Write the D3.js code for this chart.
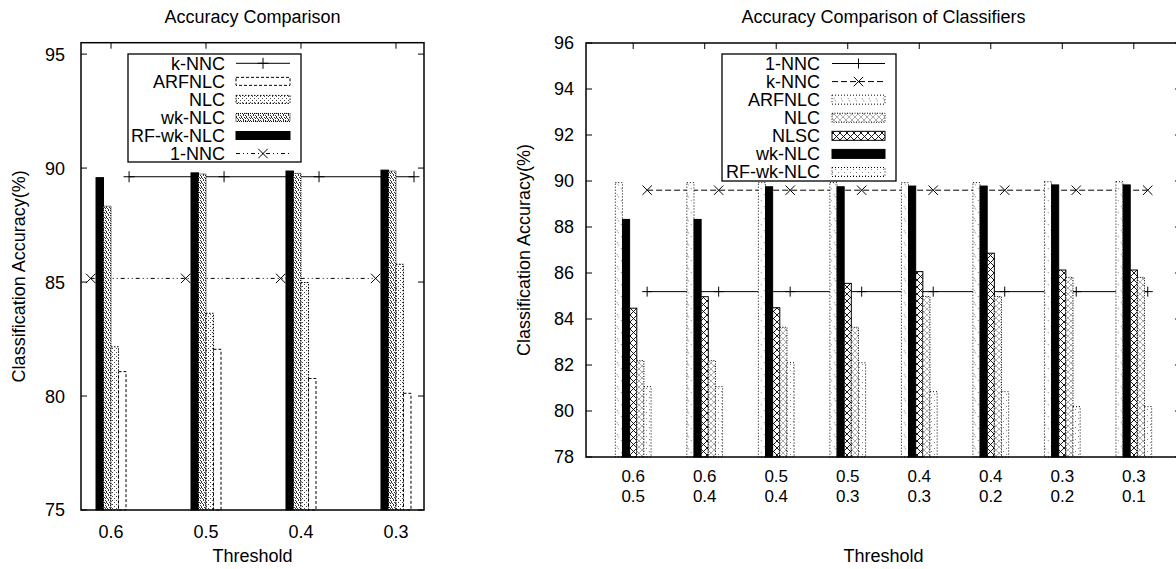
<!DOCTYPE html>
<html>
<head>
<meta charset="utf-8">
<script src="https://cdn.jsdelivr.net/npm/d3@7"></script>
<style>
  html, body { margin: 0; padding: 0; background: #fff; }
  svg { display: block; font-family: "Liberation Sans", Arial, Helvetica, sans-serif; }
</style>
</head>
<body>
<svg id="fig" width="1176" height="569"></svg>
<script>
// ---------- Left panel: single threshold ----------
const thresholdsSingle = ["0.6", "0.5", "0.4", "0.3"];
const singleRFwkNLC = [89.58, 89.79, 89.87, 89.91];
const singleWkNLC   = [88.33, 89.74, 89.77, 89.87];
const singleNLC     = [82.16, 83.63, 84.98, 85.78];
const singleARFNLC  = [81.07, 82.05, 80.77, 80.12];
const singleKNNC    = [89.62, 89.62, 89.62, 89.62];
const single1NNC    = [85.16, 85.16, 85.16, 85.16];
const yTicksSingle  = [75, 80, 85, 90, 95];

// ---------- Right panel: threshold pairs ----------
const thresholdPairs = [["0.6", "0.5"], ["0.6", "0.4"], ["0.5", "0.4"], ["0.5", "0.3"],
                        ["0.4", "0.3"], ["0.4", "0.2"], ["0.3", "0.2"], ["0.3", "0.1"]];
const pairARFNLC  = [89.93, 89.93, 89.93, 89.93, 89.93, 89.93, 89.97, 89.97];
const pairWkNLC   = [88.33, 88.33, 89.75, 89.75, 89.78, 89.78, 89.83, 89.83];
const pairNLSC    = [84.47, 84.97, 84.49, 85.55, 86.06, 86.86, 86.13, 86.13];
const pairNLC     = [82.19, 82.19, 83.64, 83.64, 84.98, 84.98, 85.81, 85.81];
const pairRFwkNLC = [81.06, 81.06, 82.10, 82.10, 80.84, 80.84, 80.19, 80.19];
const pair1NNC    = [85.19, 85.19, 85.19, 85.19, 85.19, 85.19, 85.19, 85.19];
const pairKNNC    = [89.60, 89.60, 89.60, 89.60, 89.60, 89.60, 89.60, 89.60];
const yTicksPair  = [78, 80, 82, 84, 86, 88, 90, 92, 94, 96];

const svg = d3.select("#fig");
const FS = 18;

// ---------- fill patterns ----------
const defs = svg.append("defs");
function pattern(id, w, h, draw) {
  const p = defs.append("pattern").attr("id", id)
    .attr("patternUnits", "userSpaceOnUse").attr("width", w).attr("height", h);
  p.append("rect").attr("width", w).attr("height", h).attr("fill", "#fff");
  draw(p);
}
function dots(p, pts, color) {
  pts.forEach(([a, b]) => p.append("rect").attr("x", a).attr("y", b)
    .attr("width", 1).attr("height", 1).attr("fill", color));
}
// dense irregular stipple
pattern("pStipple", 5, 5, p => dots(p,
  [[0, 0], [3, 0], [1, 1], [4, 2], [2, 3], [0, 3], [3, 4], [1, 2]], "#333"));
// sparse dots
pattern("pSparse", 4, 4, p => dots(p, [[0, 0], [2, 2]], "#444"));
// diamond cross-hatch
pattern("pHatch", 7, 7, p => p.append("path")
  .attr("d", "M0,0L7,7M7,0L0,7M-1,6L1,8M6,-1L8,1")
  .attr("stroke", "#000").attr("stroke-width", 0.9).attr("fill", "none"));
// light cross-hatch
pattern("pLightHatch", 6, 6, p => p.append("path")
  .attr("d", "M0,0L6,6M6,0L0,6")
  .attr("stroke", "#9a9a9a").attr("stroke-width", 0.8).attr("fill", "none"));
// scattered dashes
pattern("pScatter", 7, 12, p => p.append("path")
  .attr("d", "M1,2L3,6M5,8L6,10")
  .attr("stroke", "#666").attr("stroke-width", 0.8).attr("stroke-dasharray", "1,1").attr("fill", "none"));
// sparse grey specks
pattern("pSpecks", 6, 6, p => dots(p, [[1, 1], [4, 4]], "#888"));

const marker = {
  plus: s => `M${-s},0H${s}M0,${-s}V${s}`,
  cross: s => `M${-s},${-s}L${s},${s}M${-s},${s}L${s},${-s}`
};

function panel(o) {
  const g = svg.append("g");
  const x = d3.scaleLinear().domain(o.xDomain).range([o.left, o.right]);
  const y = d3.scaleLinear().domain(o.yDomain).range([o.bottom, o.top]);
  const n = o.categories.length;
  const idx = d3.range(n);
  const tl = 6;

  // tick marks on all four sides
  const ticks = g.append("g").attr("stroke", "#000").attr("stroke-width", 1);
  o.yTicks.forEach(v => {
    ticks.append("line").attr("x1", o.left).attr("x2", o.left + tl).attr("y1", y(v)).attr("y2", y(v));
    ticks.append("line").attr("x1", o.right).attr("x2", o.right - tl).attr("y1", y(v)).attr("y2", y(v));
  });
  idx.forEach(i => {
    ticks.append("line").attr("x1", x(i)).attr("x2", x(i)).attr("y1", o.top).attr("y2", o.top + tl);
    ticks.append("line").attr("x1", x(i)).attr("x2", x(i)).attr("y1", o.bottom).attr("y2", o.bottom - tl);
  });

  // reference lines (drawn under the bars)
  o.lines.forEach(s => {
    const lg = g.append("g");
    lg.append("path")
      .attr("d", d3.line().x((d, i) => x(i + s.offset)).y(d => y(d))(s.values))
      .attr("fill", "none").attr("stroke", "#000").attr("stroke-width", 1)
      .attr("stroke-dasharray", s.dash || null);
    lg.selectAll("path.m").data(s.values).join("path").attr("class", "m")
      .attr("transform", (d, i) => `translate(${x(i + s.offset)},${y(d)})`)
      .attr("d", marker[s.marker](s.msize))
      .attr("fill", "none").attr("stroke", "#000").attr("stroke-width", 1);
  });

  // clustered bars
  const nb = o.bars.length;
  o.bars.forEach((s, j) => {
    g.append("g").selectAll("rect").data(s.values).join("rect")
      .attr("x", (d, i) => x(i + (j - nb / 2) * o.barW))
      .attr("width", (d, i) => x(i + (j + 1 - nb / 2) * o.barW) - x(i + (j - nb / 2) * o.barW))
      .attr("y", d => y(d))
      .attr("height", d => y(o.yDomain[0]) - y(d))
      .attr("fill", s.fill).attr("stroke", s.stroke).attr("stroke-width", 1)
      .attr("stroke-dasharray", s.dash || null);
  });

  // plot frame
  g.append("rect").attr("x", o.left).attr("y", o.top)
    .attr("width", o.right - o.left).attr("height", o.bottom - o.top)
    .attr("fill", "none").attr("stroke", "#000").attr("stroke-width", 1.5);

  // tick labels
  const txt = g.append("g").attr("font-size", FS).attr("fill", "#000");
  o.yTicks.forEach(v => txt.append("text").attr("x", o.yLabelX).attr("y", y(v))
    .attr("dy", "0.36em").attr("text-anchor", "end").text(v));
  o.categories.forEach((c, i) => {
    const lines = Array.isArray(c) ? c : [c];
    lines.forEach((s, k) => txt.append("text")
      .attr("x", x(i)).attr("y", o.xLabelY + k * o.xLineGap)
      .attr("font-size", o.xLabelFS).attr("text-anchor", "middle").text(s));
  });

  // titles
  const cx = (o.left + o.right) / 2;
  txt.append("text").attr("x", cx).attr("y", 23).attr("text-anchor", "middle").text(o.title);
  txt.append("text").attr("x", cx).attr("y", 562).attr("text-anchor", "middle").text("Threshold");
  txt.append("text").attr("transform", `translate(${o.yTitleX},${(o.top + o.bottom) / 2}) rotate(-90)`)
    .attr("text-anchor", "middle").text("Classification Accuracy(%)");

  // key
  const k = o.key;
  const kg = g.append("g");
  kg.append("rect").attr("x", k.x0).attr("y", k.y0).attr("width", k.x1 - k.x0).attr("height", k.y1 - k.y0)
    .attr("fill", "#fff").attr("stroke", "#000").attr("stroke-width", 1.3);
  k.items.forEach((it, r) => {
    const ry = k.rowY + r * k.rowH;
    kg.append("text").attr("x", k.textX).attr("y", ry).attr("dy", "0.36em")
      .attr("text-anchor", "end").attr("font-size", FS).text(it.name);
    if (it.kind === "line") {
      kg.append("line").attr("x1", k.s0).attr("x2", k.s1).attr("y1", ry).attr("y2", ry)
        .attr("stroke", "#000").attr("stroke-width", 1).attr("stroke-dasharray", it.dash || null);
      kg.append("path").attr("transform", `translate(${(k.s0 + k.s1) / 2},${ry})`)
        .attr("d", marker[it.marker](it.msize)).attr("fill", "none").attr("stroke", "#000");
    } else {
      kg.append("rect").attr("x", k.s0).attr("y", ry - k.boxH / 2).attr("width", k.s1 - k.s0).attr("height", k.boxH)
        .attr("fill", it.fill).attr("stroke", it.stroke).attr("stroke-width", 1)
        .attr("stroke-dasharray", it.dash || null);
    }
  });
}

// ---------- left panel ----------
const lBars = [
  { name: "RF-wk-NLC", values: singleRFwkNLC, fill: "#000", stroke: "#000" },
  { name: "wk-NLC", values: singleWkNLC, fill: "url(#pStipple)", stroke: "#000", dash: "1,1" },
  { name: "NLC", values: singleNLC, fill: "url(#pSparse)", stroke: "#000", dash: "1.5,1.5" },
  { name: "ARFNLC", values: singleARFNLC, fill: "#fff", stroke: "#000", dash: "3,2" }
];
const lLines = [
  { name: "k-NNC", values: singleKNNC, marker: "plus", msize: 5.5, offset: 0.19 },
  { name: "1-NNC", values: single1NNC, marker: "cross", msize: 4.7, offset: -0.214, dash: "4,3,1,3,1,3" }
];
panel({
  left: 81, right: 424, top: 42.7, bottom: 510,
  xDomain: [-0.316, 3.295], yDomain: [75, 95.5], yTicks: yTicksSingle,
  categories: thresholdsSingle, barW: 0.079,
  bars: lBars, lines: lLines,
  yLabelX: 65, xLabelY: 538, xLineGap: 0, xLabelFS: FS, yTitleX: 25,
  title: "Accuracy Comparison",
  key: {
    x0: 128, y0: 54, x1: 301, y1: 162, textX: 225, s0: 236, s1: 290, rowY: 63.3, rowH: 18.05, boxH: 8,
    items: [
      { name: "k-NNC", kind: "line", marker: "plus", msize: 5.5 },
      { name: "ARFNLC", kind: "bar", fill: "#fff", stroke: "#000", dash: "3,2" },
      { name: "NLC", kind: "bar", fill: "url(#pSparse)", stroke: "#000", dash: "1.5,1.5" },
      { name: "wk-NLC", kind: "bar", fill: "url(#pStipple)", stroke: "#000", dash: "1,1" },
      { name: "RF-wk-NLC", kind: "bar", fill: "#000", stroke: "#000" },
      { name: "1-NNC", kind: "line", marker: "cross", msize: 4.7, dash: "4,3,1,3,1,3" }
    ]
  }
});

// ---------- right panel ----------
const rBars = [
  { name: "ARFNLC", values: pairARFNLC, fill: "url(#pScatter)", stroke: "#000", dash: "1,2" },
  { name: "wk-NLC", values: pairWkNLC, fill: "#000", stroke: "#000" },
  { name: "NLSC", values: pairNLSC, fill: "url(#pHatch)", stroke: "#000" },
  { name: "NLC", values: pairNLC, fill: "url(#pLightHatch)", stroke: "#000", dash: "1,1.5" },
  { name: "RF-wk-NLC", values: pairRFwkNLC, fill: "url(#pSpecks)", stroke: "#000", dash: "1,2" }
];
const rLines = [
  { name: "1-NNC", values: pair1NNC, marker: "plus", msize: 5, offset: 0.195 },
  { name: "k-NNC", values: pairKNNC, marker: "cross", msize: 4.7, offset: 0.195, dash: "6,3" }
];
panel({
  left: 586, right: 1181, top: 43, bottom: 457,
  xDomain: [-0.66, 7.66], yDomain: [78, 96], yTicks: yTicksPair,
  categories: thresholdPairs, barW: 0.1,
  bars: rBars, lines: rLines,
  yLabelX: 574, xLabelY: 482, xLineGap: 19.5, xLabelFS: 17, yTitleX: 530,
  title: "Accuracy Comparison of Classifiers",
  key: {
    x0: 722, y0: 54, x1: 896, y1: 181, textX: 820, s0: 832, s1: 885, rowY: 63.5, rowH: 18.08, boxH: 9,
    items: [
      { name: "1-NNC", kind: "line", marker: "plus", msize: 5 },
      { name: "k-NNC", kind: "line", marker: "cross", msize: 4.7, dash: "6,3" },
      { name: "ARFNLC", kind: "bar", fill: "url(#pScatter)", stroke: "#000", dash: "1,2" },
      { name: "NLC", kind: "bar", fill: "url(#pLightHatch)", stroke: "#000", dash: "1,1.5" },
      { name: "NLSC", kind: "bar", fill: "url(#pHatch)", stroke: "#000" },
      { name: "wk-NLC", kind: "bar", fill: "#000", stroke: "#000" },
      { name: "RF-wk-NLC", kind: "bar", fill: "url(#pSpecks)", stroke: "#000", dash: "1,2" }
    ]
  }
});
</script>
</body>
</html>
